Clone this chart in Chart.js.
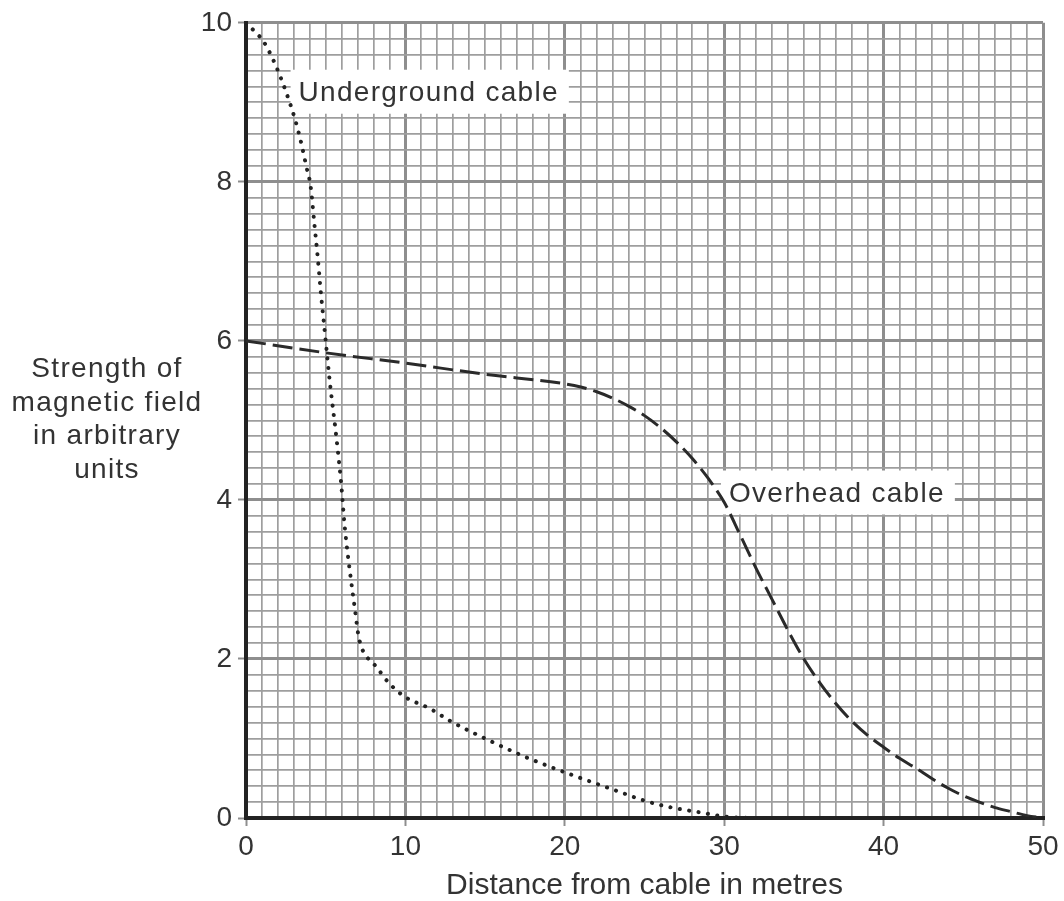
<!DOCTYPE html>
<html>
<head>
<meta charset="utf-8">
<script src="https://cdn.jsdelivr.net/npm/chart.js@4.4.1/dist/chart.umd.min.js"></script>
<style>
html,body{margin:0;padding:0;background:#fff;overflow:hidden;}
#wrap{position:relative;width:1064px;height:901px;}
</style>
</head>
<body>
<div id="wrap"><canvas id="c"></canvas></div>
<script>
// ---- data ----
const seriesNames = ['Underground cable', 'Overhead cable'];
const undergroundX = [0, 0.6, 1.05, 1.6, 2.1, 2.6, 3.1, 3.45, 3.8, 4.05, 4.3, 4.5, 4.7, 5.0, 5.25, 5.65, 5.95, 6.2, 6.55, 6.85, 7.05, 7.3, 7.6, 8.05, 9.0, 10.0, 11.5, 12.9, 15.0, 17.5, 20.2, 22.0, 23.7, 24.8, 26.5, 28.5, 30, 32, 40, 50];
const undergroundY = [10, 9.88, 9.78, 9.58, 9.35, 9.08, 8.77, 8.5, 8.18, 7.95, 7.45, 7.05, 6.6, 6.0, 5.5, 4.82, 4.25, 3.65, 3.05, 2.6, 2.3, 2.12, 2.02, 1.93, 1.69, 1.52, 1.38, 1.21, 1.0, 0.77, 0.56, 0.43, 0.31, 0.23, 0.14, 0.07, 0.02, 0, 0, 0];
const overheadX = [0, 5, 10, 15, 20, 21, 22, 23, 24, 25, 26, 27, 28, 29, 30, 31, 32, 33, 34, 35, 36, 37, 38, 39, 40, 41, 42, 43, 44, 45, 46, 47, 48, 49, 50];
const overheadY = [6.0, 5.85, 5.72, 5.58, 5.46, 5.42, 5.36, 5.28, 5.18, 5.06, 4.91, 4.73, 4.52, 4.27, 3.97, 3.56, 3.14, 2.75, 2.36, 2.0, 1.7, 1.44, 1.22, 1.04, 0.89, 0.75, 0.63, 0.5, 0.38, 0.28, 0.2, 0.13, 0.08, 0.03, 0.0];
const xTickLabels = [0, 10, 20, 30, 40, 50];
const yTickLabels = [0, 2, 4, 6, 8, 10];
const xTitle = 'Distance from cable in metres';
const yTitleLines = ['Strength of', 'magnetic field', 'in arbitrary', 'units'];
// label anchors (data coords: left edge of text, baseline)
const labelAnchors = [
  {text: seriesNames[0], x: 3.3, y: 9.02},
  {text: seriesNames[1], x: 30.3, y: 3.98}
];

const FONT = '"Liberation Sans", Arial, sans-serif';
const TEXT = '#333333';
const isIn = (arr, v) => arr.some(a => Math.abs(a - v) < 1e-6);
const toPoints = (xs, ys) => xs.map((x, i) => ({x: x, y: ys[i]}));

const textPlugin = {
  id: 'textPlugin',
  beforeDatasetsDraw(chart) {
    const {ctx, scales: {x, y}} = chart;
    ctx.save();
    ctx.font = '28px ' + FONT;
    ctx.letterSpacing = '1.3px';
    ctx.textAlign = 'left';
    ctx.textBaseline = 'alphabetic';
    labelAnchors.forEach(a => {
      const px = x.getPixelForValue(a.x);
      const py = y.getPixelForValue(a.y);
      const w = ctx.measureText(a.text).width;
      ctx.fillStyle = '#ffffff';
      ctx.fillRect(px - 8, py - 31, w + 18, 44);
      ctx.fillStyle = TEXT;
      ctx.fillText(a.text, px, py);
    });
    ctx.restore();
  },
  afterDraw(chart) {
    const {ctx, chartArea} = chart;
    ctx.save();
    ctx.font = '28px ' + FONT;
    ctx.letterSpacing = '1.3px';
    ctx.textAlign = 'center';
    ctx.textBaseline = 'alphabetic';
    ctx.fillStyle = TEXT;
    const mid = (chartArea.top + chartArea.bottom) / 2;
    const cx = chartArea.left - 139;
    yTitleLines.forEach((line, i) => {
      ctx.fillText(line, cx, mid + (i - 1.5) * 33.4 + 7);
    });
    ctx.restore();
  }
};

const major = c => c.tick && isIn(c.scale.axis === 'x' ? xTickLabels : yTickLabels, c.tick.value);
const gridColor = c => major(c) ? '#8e8e8e' : '#9e9e9e';
const gridWidth = c => major(c) ? 3 : 1.7;
const tickColor = c => major(c) ? '#8e8e8e' : 'rgba(0,0,0,0)';

new Chart(document.getElementById('c'), {
  type: 'scatter',
  data: {
    datasets: [
      {
        label: seriesNames[0],
        data: toPoints(undergroundX, undergroundY),
        showLine: true,
        borderColor: '#222222',
        borderWidth: 4,
        borderDash: [0.1, 9.4],
        borderCapStyle: 'round',
        pointRadius: 0,
        cubicInterpolationMode: 'monotone',
        fill: false
      },
      {
        label: seriesNames[1],
        data: toPoints(overheadX, overheadY),
        showLine: true,
        borderColor: '#2a2a2a',
        borderWidth: 3,
        borderDash: [20, 7],
        borderCapStyle: 'butt',
        pointRadius: 0,
        cubicInterpolationMode: 'monotone',
        fill: false
      }
    ]
  },
  options: {
    responsive: true,
    maintainAspectRatio: false,
    animation: false,
    devicePixelRatio: 1,
    layout: {padding: {top: 21, right: 21, left: 0, bottom: 0}},
    plugins: {legend: {display: false}, tooltip: {enabled: false}},
    scales: {
      x: {
        type: 'linear',
        min: 0, max: 50,
        afterFit: s => { s.height = 83; },
        ticks: {
          stepSize: 1, autoSkip: false, maxRotation: 0, padding: 4,
          color: TEXT, font: {family: FONT, size: 28},
          callback: v => isIn(xTickLabels, v) ? String(Math.round(v)) : ''
        },
        grid: {color: gridColor, lineWidth: gridWidth, tickColor: tickColor, tickWidth: 2, tickLength: 8, drawTicks: true},
        border: {display: true, color: '#222222', width: 4},
        title: {display: true, text: xTitle, color: TEXT, font: {family: FONT, size: 30, lineHeight: 1}, padding: {top: 0, bottom: 0}}
      },
      y: {
        type: 'linear',
        min: 0, max: 10,
        afterFit: s => { s.width = 246; },
        ticks: {
          stepSize: 0.2, autoSkip: false, padding: 6,
          color: TEXT, font: {family: FONT, size: 28},
          callback: v => isIn(yTickLabels, v) ? String(Math.round(v)) : ''
        },
        grid: {color: gridColor, lineWidth: gridWidth, tickColor: tickColor, tickWidth: 2, tickLength: 8, drawTicks: true},
        border: {display: true, color: '#222222', width: 4}
      }
    }
  },
  plugins: [textPlugin]
});
</script>
</body>
</html>
